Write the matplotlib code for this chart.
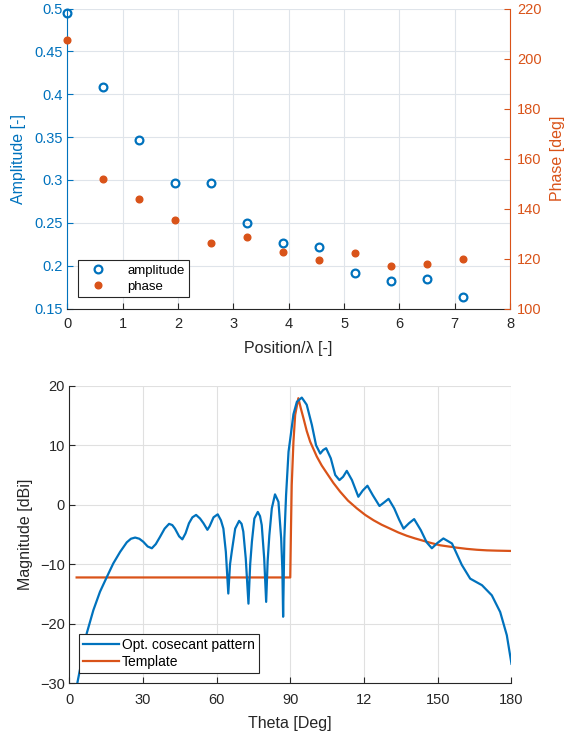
import matplotlib
matplotlib.use("Agg")
import matplotlib.pyplot as plt
from matplotlib.lines import Line2D

plt.rcParams['font.family'] = ['Liberation Sans', 'DejaVu Sans']

BLUE = '#0072BD'
ORANGE = '#D95319'
DARK = '#262626'

# ---------------- data: top plot ----------------
position = [0, 0.65, 1.3, 1.95, 2.6, 3.25, 3.9, 4.55, 5.2, 5.85, 6.5, 7.15]
amplitude = [0.495, 0.409, 0.347, 0.296, 0.296, 0.250, 0.227, 0.222, 0.192, 0.182, 0.185, 0.163]
phase = [207.4, 151.7, 143.8, 135.5, 126.2, 128.5, 122.7, 119.5, 122.2, 117.1, 117.7, 120.0]

x_ticks_top = [0, 1, 2, 3, 4, 5, 6, 7, 8]
amp_ticks = [0.15, 0.2, 0.25, 0.3, 0.35, 0.4, 0.45, 0.5]
amp_tick_labels = ['0.15', '0.2', '0.25', '0.3', '0.35', '0.4', '0.45', '0.5']
phase_ticks = [100, 120, 140, 160, 180, 200, 220]

# ---------------- data: bottom plot ----------------
pattern_theta = [3.4, 5.2, 7.2, 9.9, 12.6, 15.3, 18.0, 20.8, 23.5, 25.2, 26.9, 28.6,
                 30.2, 32.0, 33.7, 35.3, 37.0, 38.9, 40.7, 42.0, 43.1, 44.8, 46.1,
                 47.4, 48.8, 50.2, 51.7, 53.3, 54.7, 56.3, 57.2, 58.8, 60.5, 61.8,
                 62.8, 63.8, 64.8, 65.5, 66.2, 67.6, 69.2, 70.2, 70.9, 71.9, 73.0,
                 73.7, 74.4, 75.4, 76.8, 77.7, 78.4, 79.4, 80.2, 80.8, 81.5, 82.5,
                 83.8, 85.2, 86.3, 86.8, 87.1, 87.4, 87.6, 88.3, 89.3, 90.3, 91.3,
                 92.7, 94.7, 96.7, 98.8, 100.5, 102.2, 103.4, 104.6, 106.5, 108.3,
                 110.0, 111.5, 113.0, 115.1, 117.7, 119.5, 121.4, 123.6, 126.3, 128.2,
                 130.0, 132.3, 134.3, 136.1, 138.3, 140.4, 143.1, 145.5, 147.6, 149.9,
                 152.3, 155.8, 157.8, 159.8, 163.2, 168.0, 172.0, 175.4, 178.1, 180.0]
pattern_db = [-29.9, -26.1, -21.6, -17.7, -14.6, -12.2, -9.85, -7.9, -6.3, -5.7, -5.5, -5.7,
              -6.2, -7.0, -7.3, -6.6, -5.4, -4.0, -3.2, -3.4, -4.0, -5.3, -5.8,
              -4.8, -3.1, -2.1, -1.7, -2.3, -3.1, -4.2, -3.6, -2.1, -1.6, -2.6,
              -4.0, -7.9, -14.9, -10.0, -7.9, -4.0, -2.7, -3.2, -4.5, -9.0, -16.6,
              -10.0, -6.2, -2.3, -1.2, -1.9, -3.4, -9.0, -16.3, -9.5, -5.1, -0.6,
              1.75, 0.5, -5.6, -11.0, -18.8, -11.0, -5.6, 1.6, 8.9, 12.0, 15.2,
              17.3, 18.0, 16.8, 13.4, 10.0, 8.6, 9.2, 9.5, 7.8, 5.0,
              4.15, 4.7, 5.7, 4.15, 1.35, 2.4, 3.2, 1.6, -0.2, 0.4,
              1.0, -0.6, -2.5, -4.0, -3.1, -2.4, -4.25, -6.3, -7.3, -6.4,
              -5.65, -6.5, -8.3, -10.1, -12.4, -13.5, -15.2, -18.0, -21.9, -26.7]

template_theta = [3.1, 90.0, 90.3, 90.6, 91.3, 92.0, 93.3, 94.3, 95.4, 96.7, 98.1, 100.8,
                  102.8, 104.9, 107.5, 110.3, 113.5, 117.1, 120.5, 123.9, 127.2, 130.6,
                  134.0, 137.4, 140.8, 144.2, 147.6, 151.0, 154.4, 157.8, 161.8, 165.9,
                  170.0, 174.1, 180.0]
template_db = [-12.2, -12.2, -4.0, 3.3, 10.6, 15.1, 17.9, 16.2, 14.5, 12.4, 10.6, 8.1,
               6.6, 5.3, 3.7, 2.2, 0.7, -0.6, -1.7, -2.6, -3.35, -4.0,
               -4.65, -5.2, -5.65, -6.05, -6.45, -6.8, -7.0, -7.2, -7.4, -7.55,
               -7.65, -7.7, -7.75]

x_ticks_bot = [0, 30, 60, 90, 120, 150, 180]
x_tick_labels_bot = ['0', '30', '60', '90', '12', '150', '180']
y_ticks_bot = [-30, -20, -10, 0, 10, 20]

# ---------------- figure ----------------
fig = plt.figure(figsize=(5.68, 7.40), dpi=100)

# ---- top axes ----
ax1 = fig.add_axes([0.1185, 0.583, 0.7795, 0.4055])
ax1.plot(position, amplitude, linestyle='none', marker='o', markersize=5.6,
         markerfacecolor='none', markeredgecolor=BLUE, markeredgewidth=1.6,
         label='amplitude', zorder=3, clip_on=False)
ax1.set_xlim(0, 8)
ax1.set_ylim(0.15, 0.5)
ax1.set_xticks(x_ticks_top)
ax1.set_yticks(amp_ticks)
ax1.set_yticklabels(amp_tick_labels)
ax1.grid(True, color='#dfe4ea', linewidth=0.8)
ax1.set_axisbelow(True)
for s in ['top', 'right']:
    ax1.spines[s].set_visible(False)
ax1.spines['left'].set_color(BLUE)
ax1.spines['bottom'].set_color(DARK)
ax1.tick_params(axis='y', colors=BLUE, direction='in', length=4, labelsize=10.5, pad=3)
ax1.tick_params(axis='x', colors=DARK, direction='in', length=4, labelsize=10.5, pad=6)
ax1.set_xlabel('Position/λ [-]', fontsize=11.5, color=DARK, labelpad=7)
ax1.set_ylabel('Amplitude [-]', fontsize=11.5, color=BLUE, labelpad=6)

ax2 = ax1.twinx()
ax2.plot(position, phase, linestyle='none', marker='o', markersize=4.8,
         markerfacecolor=ORANGE, markeredgecolor=ORANGE, label='phase', zorder=3,
         clip_on=False)
ax2.set_ylim(100, 220)
ax2.set_yticks(phase_ticks)
for s in ['top', 'left', 'bottom']:
    ax2.spines[s].set_visible(False)
ax2.spines['right'].set_color(ORANGE)
ax2.tick_params(axis='y', colors=ORANGE, direction='in', length=4, labelsize=10.5, pad=5)
ax2.set_ylabel('Phase [deg]', fontsize=11.5, color=ORANGE, labelpad=6)

h1 = Line2D([], [], linestyle='none', marker='o', markersize=5.6, markerfacecolor='none',
            markeredgecolor=BLUE, markeredgewidth=1.6)
h2 = Line2D([], [], linestyle='none', marker='o', markersize=4.8,
            markerfacecolor=ORANGE, markeredgecolor=ORANGE)
leg1 = ax2.legend([h1, h2], ['amplitude', 'phase'], loc='lower left',
                  bbox_to_anchor=(0.024, 0.038), borderaxespad=0, fancybox=False,
                  framealpha=1, edgecolor=DARK, fontsize=9.5, handlelength=2.4,
                  handletextpad=1.0, borderpad=0.35, labelspacing=0.25)
leg1.get_frame().set_linewidth(0.8)

# ---- bottom axes ----
ax3 = fig.add_axes([0.1215, 0.0764, 0.779, 0.4024])
ax3.plot(pattern_theta, pattern_db, color=BLUE, linewidth=1.6,
         label='Opt. cosecant pattern', zorder=3, solid_joinstyle='round')
ax3.plot(template_theta, template_db, color=ORANGE, linewidth=1.6,
         label='Template', zorder=2, solid_joinstyle='round')
ax3.set_xlim(0, 180)
ax3.set_ylim(-30, 20)
ax3.set_xticks(x_ticks_bot)
ax3.set_xticklabels(x_tick_labels_bot)
ax3.set_yticks(y_ticks_bot)
ax3.grid(True, color='#e0e0e0', linewidth=0.8)
ax3.set_axisbelow(True)
for s in ['top', 'right']:
    ax3.spines[s].set_visible(False)
ax3.spines['left'].set_color(DARK)
ax3.spines['bottom'].set_color(DARK)
ax3.tick_params(colors=DARK, direction='in', length=4, labelsize=10.5)
ax3.tick_params(axis='x', pad=7)
ax3.tick_params(axis='y', pad=3)
ax3.set_xlabel('Theta [Deg]', fontsize=11.5, color=DARK, labelpad=6)
ax3.set_ylabel('Magnitude [dBi]', fontsize=11.5, color=DARK, labelpad=5)
leg2 = ax3.legend(loc='lower left', bbox_to_anchor=(0.0226, 0.035), borderaxespad=0,
                  fancybox=False, framealpha=1, edgecolor=DARK, fontsize=10,
                  handlelength=2.6, handletextpad=0.2, borderpad=0.3, labelspacing=0.2)
leg2.get_frame().set_linewidth(0.8)

fig.savefig('out.png', dpi=100)
